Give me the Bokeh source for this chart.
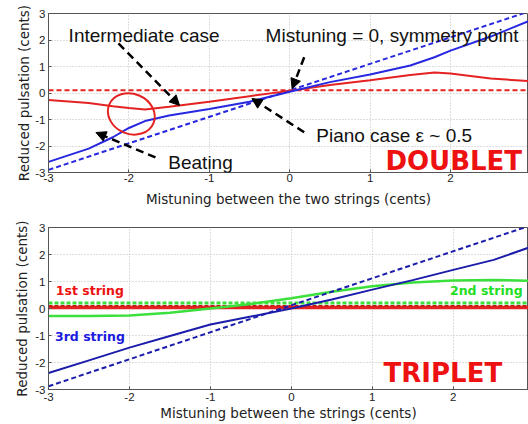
from bokeh.plotting import figure
from bokeh.layouts import column
from bokeh.models import Range1d, Label, Arrow, NormalHead, FixedTicker
from bokeh.embed import file_html
from bokeh.resources import INLINE

# ---------------- DOUBLET data ----------------
doublet_x = [-3.0, -2.5, -2.2, -2.0, -1.8, -1.5, -1.0, -0.5, 0.0, 0.5, 1.0, 1.5, 1.8, 2.0, 2.5, 2.97]
doublet_blue = [-2.6, -2.1, -1.67, -1.32, -1.06, -0.85, -0.6, -0.33, 0.05, 0.41, 0.7, 1.04, 1.35, 1.6, 2.13, 2.71]
doublet_red = [-0.26, -0.38, -0.5, -0.57, -0.62, -0.52, -0.33, -0.12, 0.08, 0.3, 0.48, 0.68, 0.77, 0.74, 0.55, 0.45]
doublet_dash_x = [-3.0, 2.97]
doublet_blue_dash = [-2.9, 3.07]
doublet_red_dash = [0.1, 0.1]

# ---------------- TRIPLET data ----------------
triplet_x = [-3.0, -2.5, -2.0, -1.5, -1.0, -0.5, 0.0, 0.5, 1.0, 1.5, 2.0, 2.5, 2.93]
triplet_blue = [-2.39, -1.92, -1.45, -1.02, -0.59, -0.3, 0.0, 0.33, 0.7, 1.05, 1.43, 1.8, 2.25]
triplet_green = [-0.28, -0.28, -0.26, -0.16, 0.0, 0.17, 0.38, 0.62, 0.82, 0.96, 1.04, 1.06, 1.03]
triplet_dash_x = [-3.0, 2.93]
triplet_blue_dash = [-2.88, 3.05]
triplet_green_dash = [0.2, 0.2]
triplet_red = [0.04, 0.04]
triplet_red_dash = [0.1, 0.1]

ticks = [-3, -2, -1, 0, 1, 2, 3]
tick_labels = {t: str(t) for t in ticks}

RED = "#e42222"
BLUE = "#2828e0"
NAVY = "#1c1caa"
GREEN = "#3ce03c"


def style(p, xlabel, ylabel):
    p.xaxis.ticker = FixedTicker(ticks=ticks)
    p.yaxis.ticker = FixedTicker(ticks=ticks)
    p.xaxis.major_label_overrides = tick_labels
    p.yaxis.major_label_overrides = tick_labels
    for ax in (p.xaxis[0], p.yaxis[0]):
        ax.major_tick_in = 3
        ax.major_tick_out = 0
        ax.minor_tick_line_color = None
        ax.major_tick_line_color = "#555555"
        ax.axis_line_color = "#555555"
        ax.major_label_text_font = "Liberation Sans"
        ax.major_label_text_font_size = "11.5px"
        ax.major_label_text_color = "#222222"
        ax.axis_label_text_font = "DejaVu Sans"
        ax.axis_label_text_font_size = "13.5px"
        ax.axis_label_text_font_style = "normal"
        ax.axis_label_text_color = "#222222"
    p.xaxis.axis_label = xlabel
    p.yaxis.axis_label = ylabel
    p.xaxis.major_label_standoff = 1
    p.yaxis.major_label_standoff = 3
    p.xaxis.axis_label_standoff = 0
    p.yaxis.axis_label_standoff = 0
    p.grid.grid_line_color = "#bdbdbd"
    p.grid.grid_line_dash = "1 2"
    p.outline_line_color = "#555555"
    p.outline_line_width = 1
    p.background_fill_color = "white"
    p.border_fill_color = "white"


# ---------------- top figure ----------------
p1 = figure(width=528, height=209, output_backend="svg", toolbar_location=None,
            x_range=Range1d(-3, 2.97), y_range=Range1d(-3, 3),
            min_border_top=13, min_border_bottom=37, min_border_left=42, min_border_right=0)
style(p1, "Mistuning between the two strings (cents)", "Reduced pulsation (cents)")
p1.xaxis.axis_label_standoff = 6

p1.line(doublet_dash_x, doublet_red_dash, line_color=RED, line_width=2, line_dash="5 3")
p1.line(doublet_dash_x, doublet_blue_dash, line_color=BLUE, line_width=2, line_dash="5 3")
p1.line(doublet_x, doublet_red, line_color=RED, line_width=2)
p1.line(doublet_x, doublet_blue, line_color=BLUE, line_width=2)
p1.ellipse(x=[-1.97], y=[-0.79], width=48, height=40, width_units="screen", height_units="screen",
           angle=-0.4, fill_color=None, line_color=RED, line_width=2)

head = lambda: NormalHead(size=10, fill_color="black", line_color="black")
for xs, ys, xe, ye in [(-2.13, 1.87, -1.37, -0.47),
                       (-1.67, -2.43, -2.41, -1.49),
                       (0.18, 1.35, 0.03, 0.16),
                       (0.18, -1.48, -0.47, -0.21)]:
    p1.add_layout(Arrow(x_start=xs, y_start=ys, x_end=xe, y_end=ye, end=head(),
                        line_color="black", line_width=2.5, line_dash="8 5"))

for txt, x, y in [("Intermediate case", -2.75, 2.17),
                  ("Mistuning = 0, symmetry point", -0.30, 2.17),
                  ("Piano case \u03b5 ~ 0.5", 0.33, -1.6),
                  ("Beating", -1.51, -2.62)]:
    p1.add_layout(Label(x=x, y=y, text=txt, text_font="Liberation Sans", text_font_size="19px",
                        text_baseline="middle", text_color="#111111"))
p1.add_layout(Label(x=1.19, y=-2.58, text="DOUBLET", text_font="DejaVu Sans", text_font_style="bold",
                    text_font_size="26px", text_baseline="middle", text_color="#ee1111"))

# ---------------- bottom figure ----------------
p2 = figure(width=528, height=215, output_backend="svg", toolbar_location=None,
            x_range=Range1d(-3, 2.93), y_range=Range1d(-3, 3),
            min_border_top=18, min_border_bottom=35, min_border_left=48, min_border_right=0)
style(p2, "Mistuning between the strings (cents)", "Reduced pulsation (cents)")
p2.yaxis.axis_label_standoff = 2
p2.xaxis.major_label_standoff = 3
p2.xaxis.axis_label_standoff = 1

p2.line(triplet_dash_x, triplet_red, line_color=RED, line_width=3.5)
p2.line(triplet_dash_x, triplet_red_dash, line_color="#c01818", line_width=1.5, line_dash="4 2")
p2.line(triplet_dash_x, triplet_green_dash, line_color=GREEN, line_width=3, line_dash="4 2")
p2.line(triplet_x, triplet_green, line_color=GREEN, line_width=2.5)
p2.line(triplet_dash_x, triplet_blue_dash, line_color=NAVY, line_width=2, line_dash="5 3")
p2.line(triplet_x, triplet_blue, line_color=NAVY, line_width=2)

for txt, x, y, c in [("1st string", -2.91, 0.67, "#ee1111"),
                     ("3rd string", -2.92, -1.05, "#1a1ae0"),
                     ("2nd string", 1.96, 0.67, "#22dd22")]:
    p2.add_layout(Label(x=x, y=y, text=txt, text_font="DejaVu Sans", text_font_style="bold",
                        text_font_size="12.5px", text_baseline="middle", text_color=c))
p2.add_layout(Label(x=1.14, y=-2.39, text="TRIPLET", text_font="DejaVu Sans", text_font_style="bold",
                    text_font_size="26px", text_baseline="middle", text_color="#ee1111"))

layout = column(p1, p2, spacing=0)
open("out.html", "w").write(file_html(layout, INLINE))
